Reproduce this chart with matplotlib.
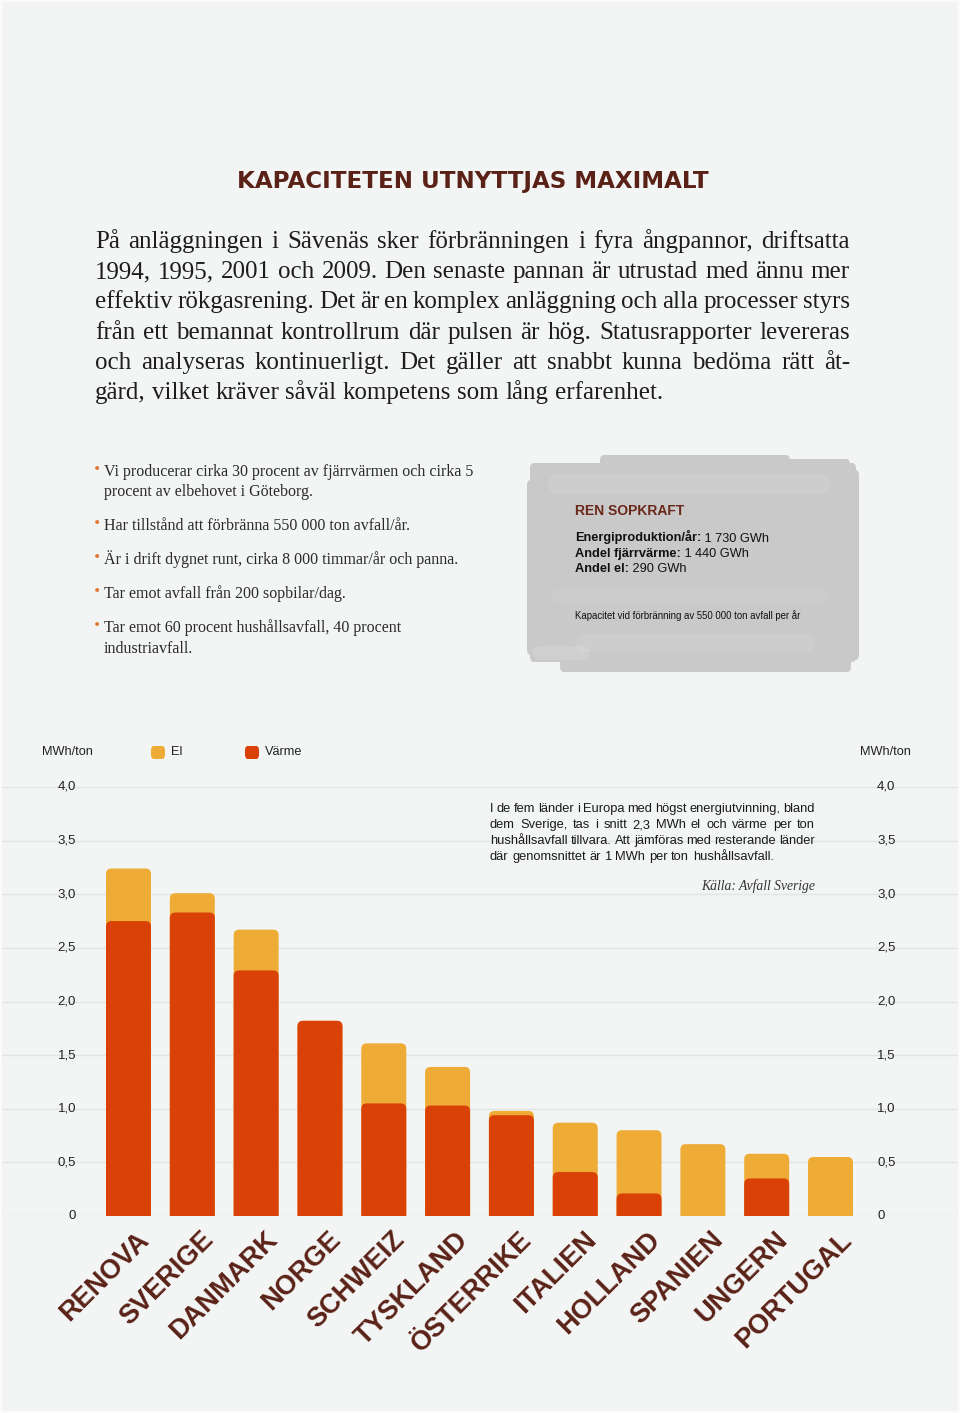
import numpy as np
import matplotlib.pyplot as plt
from matplotlib.patches import FancyBboxPatch, Rectangle
from matplotlib import transforms

# data (MWh per ton)
countries = ["RENOVA", "SVERIGE", "DANMARK", "NORGE", "SCHWEIZ", "TYSKLAND",
             "ÖSTERRIKE", "ITALIEN", "HOLLAND", "SPANIEN", "UNGERN", "PORTUGAL"]
varme = [2.75, 2.83, 2.29, 1.82, 1.05, 1.03, 0.94, 0.41, 0.21, 0.0, 0.35, 0.0]
el = [0.49, 0.18, 0.38, 0.0, 0.56, 0.36, 0.04, 0.46, 0.59, 0.67, 0.23, 0.55]
yticks = [0, 0.5, 1.0, 1.5, 2.0, 2.5, 3.0, 3.5, 4.0]
ytick_labels = ["0", "0,5", "1,0", "1,5", "2,0", "2,5", "3,0", "3,5", "4,0"]

title = "KAPACITETEN UTNYTTJAS MAXIMALT"
intro = [
    "På anläggningen i Sävenäs sker förbränningen i fyra ångpannor, driftsatta",
    "1994, 1995, 2001 och 2009. Den senaste pannan är utrustad med ännu mer",
    "effektiv rökgasrening. Det är en komplex anläggning och alla processer styrs",
    "från ett bemannat kontrollrum där pulsen är hög. Statusrapporter levereras",
    "och analyseras kontinuerligt. Det gäller att snabbt kunna bedöma rätt åt-",
    "gärd, vilket kräver såväl kompetens som lång erfarenhet.",
]
bullets = [
    ["Vi producerar cirka 30 procent av fjärrvärmen och cirka 5",
     "procent av elbehovet i Göteborg."],
    ["Har tillstånd att förbränna 550 000 ton avfall/år."],
    ["Är i drift dygnet runt, cirka 8 000 timmar/år och panna."],
    ["Tar emot avfall från 200 sopbilar/dag."],
    ["Tar emot 60 procent hushållsavfall, 40 procent",
     "industriavfall."],
]
box_title = "REN SOPKRAFT"
box_rows = [("Energiproduktion/år:", " 1 730 GWh"),
            ("Andel fjärrvärme:", " 1 440 GWh"),
            ("Andel el:", " 290 GWh")]
box_note = "Kapacitet vid förbränning av 550 000 ton avfall per år"
note = [
    "I de fem länder i Europa med högst energiutvinning, bland",
    "dem Sverige, tas i snitt 2,3 MWh el och värme per ton",
    "hushållsavfall tillvara. Att jämföras med resterande länder",
    "där genomsnittet är 1 MWh per ton hushållsavfall.",
]
source = "Källa: Avfall Sverige"

BG = "#f3f5f5"
BROWN = "#5a2217"
YELLOW = "#eeac36"
RED = "#d94107"
W, H = 960, 1413

fig = plt.figure(figsize=(9.6, 14.13), dpi=100, facecolor=BG)
renderer = fig.canvas.get_renderer()


def fx(x):
    return x / W


def fy(y):
    return 1 - y / H


def width_of(t):
    return t.get_window_extent(renderer).width


def justified(line, x0, x1, y, last=False, **kw):
    words = line.split(" ")
    texts = [fig.text(0, fy(y), w, va="baseline", **kw) for w in words]
    widths = [width_of(t) for t in texts]
    if last:
        gap = width_of(fig.text(0, 0, "a a", alpha=0, **kw)) - width_of(fig.text(0, 0, "aa", alpha=0, **kw))
    else:
        gap = (x1 - x0 - sum(widths)) / (len(words) - 1)
    x = x0
    for t, w in zip(texts, widths):
        t.set_x(fx(x))
        x += w + gap


def rect(x0, y0, x1, y1, color, alpha=1.0, r=0.004):
    fig.patches.append(FancyBboxPatch((fx(x0), fy(y1)), fx(x1 - x0), fy(y0) - fy(y1),
                                      boxstyle=f"round,pad=0,rounding_size={r}",
                                      transform=fig.transFigure, fc=color, ec="none",
                                      alpha=alpha))


# title
fig.text(fx(473), fy(188), title, ha="center", va="baseline", color=BROWN,
         fontsize=16.6, family="Liberation Sans Narrow", fontweight="bold")

# intro paragraph
for i, line in enumerate(intro):
    justified(line, 95, 850, 248 + i * 30.2, last=(i == len(intro) - 1),
              family="Liberation Serif", fontsize=18, color="#1d1d1d")

# bullet list
y = 476
for item in bullets:
    fig.text(fx(97), fy(y - 3.5), "•", ha="center", va="baseline", color="#e07a3a",
             fontsize=10)
    for line in item:
        fig.text(fx(104), fy(y), line, va="baseline", family="Liberation Serif",
                 fontsize=11.5, color="#2a2a2a")
        y += 20.5
    y += 13.5

# grey brushed box made of a few overlapping strokes
GREY = "#c9c9c9"
rect(530, 463, 856, 662, GREY)
rect(527, 480, 545, 655, GREY)
rect(600, 455, 790, 470, GREY)
rect(700, 459, 850, 470, GREY)
rect(560, 640, 851, 672, GREY)
rect(845, 470, 859, 660, GREY)
for (x0, y0, x1, y1, a) in [(548, 474, 830, 494, 0.12), (552, 588, 828, 604, 0.1),
                            (575, 634, 815, 652, 0.14), (532, 646, 590, 660, 0.2)]:
    rect(x0, y0, x1, y1, "#ececec", a, 0.008)
fig.text(fx(575), fy(515), box_title, va="baseline", color="#6a2819", fontsize=10,
         family="Liberation Sans", fontweight="bold")
for i, (b, r) in enumerate(box_rows):
    yy = fy(541.5 + i * 15.5)
    t = fig.text(fx(575), yy, b, va="baseline", family="Liberation Sans",
                 fontweight="bold", fontsize=9.2, color="#111111")
    fig.text(fx(575 + width_of(t)), yy, r, va="baseline", family="Liberation Sans",
             fontsize=9.2, color="#111111")
fig.text(fx(575), fy(619), box_note, va="baseline", family="Liberation Sans",
         fontsize=6.9, color="#111111")

# chart axes, y 0 -> 1216 px, 4.0 -> 787 px
ax = fig.add_axes([0, fy(1216), 1, fy(787) - fy(1216)])
ax.set_facecolor("none")
step = (830.5 - 128.5) / (len(countries) - 1)
ax.set_xlim(-128.5 / step, (W - 128.5) / step)
ax.set_ylim(0, 4)
ax.axis("off")
for v in yticks:
    ax.axhline(v, color="#e3e5e5", lw=1, zorder=0)

bw = 45 / step
asp = step / ((1216 - 787) / 4)
rs = 5.5 / step
for i in range(len(countries)):
    total = varme[i] + el[i]
    for val, col in [(total, YELLOW), (varme[i], RED)]:
        if val <= 0:
            continue
        ax.add_patch(FancyBboxPatch((i - bw / 2, -0.3), bw, val + 0.3,
                                    boxstyle=f"round,pad=0,rounding_size={rs}",
                                    mutation_aspect=asp, fc=col, ec="none", zorder=2))

lab_tr = transforms.offset_copy(ax.get_xaxis_transform(), fig=fig, x=17, y=-20,
                                units="dots")
for i, name in enumerate(countries):
    ax.text(i, 0, name, transform=lab_tr, rotation=45, rotation_mode="anchor",
            ha="right", va="center", color=BROWN, fontsize=19.5, clip_on=False,
            family="Liberation Sans", fontweight="bold")

ylab_l = transforms.blended_transform_factory(fig.transFigure, ax.transData)
for v, s in zip(yticks, ytick_labels):
    ax.text(fx(76), v, s, transform=ylab_l, ha="right", va="center",
            family="Liberation Sans", fontsize=9.5, color="#222222")
    ax.text(fx(877), v, s, transform=ylab_l, ha="left", va="center",
            family="Liberation Sans", fontsize=9.5, color="#222222")

# legend row
lab = dict(family="Liberation Sans", fontsize=9.2, color="#222222", va="center")
fig.text(fx(42), fy(752), "MWh/ton", **lab)
fig.text(fx(911), fy(752), "MWh/ton", ha="right", **lab)
for x0, col, name in [(151, YELLOW, "El"), (245, RED, "Värme")]:
    fig.patches.append(FancyBboxPatch((fx(x0), fy(759)), fx(14), fy(746) - fy(759),
                                      boxstyle="round,pad=0,rounding_size=0.003",
                                      transform=fig.transFigure, fc=col, ec="none"))
    fig.text(fx(x0 + 20), fy(752.5), name, **lab)

# note text
for i, line in enumerate(note):
    justified(line, 490, 815, 812 + i * 16, last=(i == len(note) - 1),
              family="Liberation Sans", fontsize=9.3, color="#1a1a1a")
fig.text(fx(815), fy(890), source, ha="right", va="baseline",
         family="Liberation Serif", style="italic", fontsize=9.8, color="#333333")

fig.patches.append(Rectangle((0, 0), 1, 1, transform=fig.transFigure, fc="none",
                             ec="#fbfbfb", lw=3))

fig.savefig("out.png", dpi=100, facecolor=BG)
